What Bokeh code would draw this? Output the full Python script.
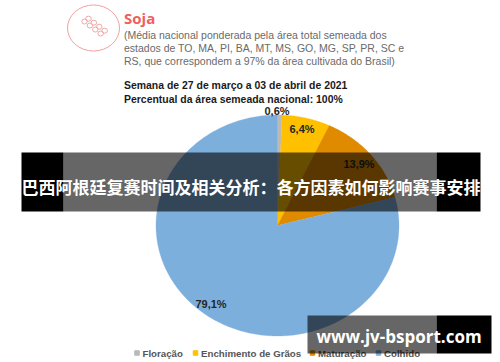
import math
from bokeh.plotting import figure
from bokeh.models import Range1d
from bokeh.embed import file_html
from bokeh.resources import INLINE
from bokeh.core.properties import value

stages = ["Floração", "Enchimento de Grãos", "Maturação", "Colhido"]
shares = [0.6, 6.4, 13.9, 79.1]
share_labels = ["0,6%", "6,4%", "13,9%", "79,1%"]
colors = ["#B9B9B9", "#FFC000", "#E08A00", "#7DAFDD"]
description = [
    "(Média nacional ponderada pela área total semeada dos",
    "estados de TO, MA, PI, BA, MT, MS, GO, MG, SP, PR, SC e",
    "RS, que correspondem a 97% da área cultivada do Brasil)",
]
subtitle = ["Semana de 27 de março a 03 de abril de 2021",
            "Percentual da área semeada nacional: 100%"]
banner = "巴西阿根廷复赛时间及相关分析：各方因素如何影响赛事安排"
site = "www.jv-bsport.com"

W, H = 500, 362
CX, CY, RX, RY = 277.0, 225.0, 121.5, 110.5

p = figure(width=W, height=H, x_range=Range1d(0, W), y_range=Range1d(H, 0),
           output_backend="svg", toolbar_location=None, min_border=0,
           background_fill_color="white", border_fill_color="white", outline_line_color=None)
p.axis.visible = False
p.grid.visible = False

# pie: unit circle in its own ranges, stretched to an ellipse
p.extra_x_ranges["pie"] = Range1d((0 - CX) / RX, (W - CX) / RX)
p.extra_y_ranges["pie"] = Range1d((CY - H) / RY, (CY - 0) / RY)

total = sum(shares)
xs, ys = [], []
cum = 0.0
for s in shares:
    a0 = cum / total * 2 * math.pi
    cum += s
    a1 = cum / total * 2 * math.pi
    n = max(2, int((a1 - a0) * 80))
    angs = [a0 + (a1 - a0) * i / n for i in range(n + 1)]
    xs.append([0.0] + [math.sin(a) for a in angs])
    ys.append([0.0] + [math.cos(a) for a in angs])
p.patches(xs, ys, fill_color=colors, line_color=colors, line_width=0.3,
          x_range_name="pie", y_range_name="pie")

def txt(x, y, s, size, color="#222222", style="normal", font="Liberation Sans", align="left", baseline="middle", alpha=1.0):
    p.text([x], [y], text=[s], text_font=value(font), text_font_size=f"{size}px",
           text_font_style=style, text_color=color, text_align=align, text_baseline=baseline, text_alpha=alpha)

# logo
p.ellipse([93], [27.5], width=52, height=46, fill_color=None, line_color="#F2A0A0", line_width=1)
for k in range(4):
    for j in range(2):
        cx0 = 84 + k * 5.4 + j * 4.0
        cy0 = 21 + k * 4.0 - j * 2.8
        p.ellipse([cx0], [cy0], width=5.5, height=5, fill_color=None, line_color="#F0A8A8", line_width=1)

txt(123.5, 17.5, "Soja", 15, color="#EE5F5F", style="bold", font="Open Sans")
for i, line in enumerate(description):
    txt(123.5, 34.7 + i * 13, line, 10.5, color="#6A6A6A")
for i, line in enumerate(subtitle):
    txt(123.5, 84.7 + i * 14, line, 10.45, color="#1A1A1A", style="bold")

# pie labels
for (x, y), s in zip([(276.5, 110.5), (301.5, 128), (358.5, 163.5), (210.5, 303)], share_labels):
    txt(x, y, s, 11, color="#262626", style="bold", align="center")

# legend
for x, s, c in zip([136.5, 195, 312, 378], stages, colors):
    p.scatter([x], [352.5], size=4.5, marker="square", fill_color=c, line_color=c)
    txt(x + 5.5, 352.5, s, 9.7, color="#555555", style="bold")

# banners
p.quad(left=[21, 63], right=[63, 436], top=[152, 152], bottom=[211, 211],
       fill_color="black", fill_alpha=[1, 0.6], line_color=None)
p.quad(left=[436], right=[480], top=[152], bottom=[211], fill_color="black", line_color=None)
txt(250.5, 185.5, banner, 17, color="white", style="bold", font="Noto Sans CJK SC", align="center")

p.quad(left=[307], right=[436], top=[315], bottom=[353], fill_color="black", fill_alpha=0.6, line_color=None)
p.quad(left=[436], right=[491], top=[315], bottom=[353], fill_color="black", line_color=None)
txt(398.5, 336, site, 17, color="white", style="bold", font="Open Sans", align="center")

open("out.html", "w").write(file_html(p, INLINE))
